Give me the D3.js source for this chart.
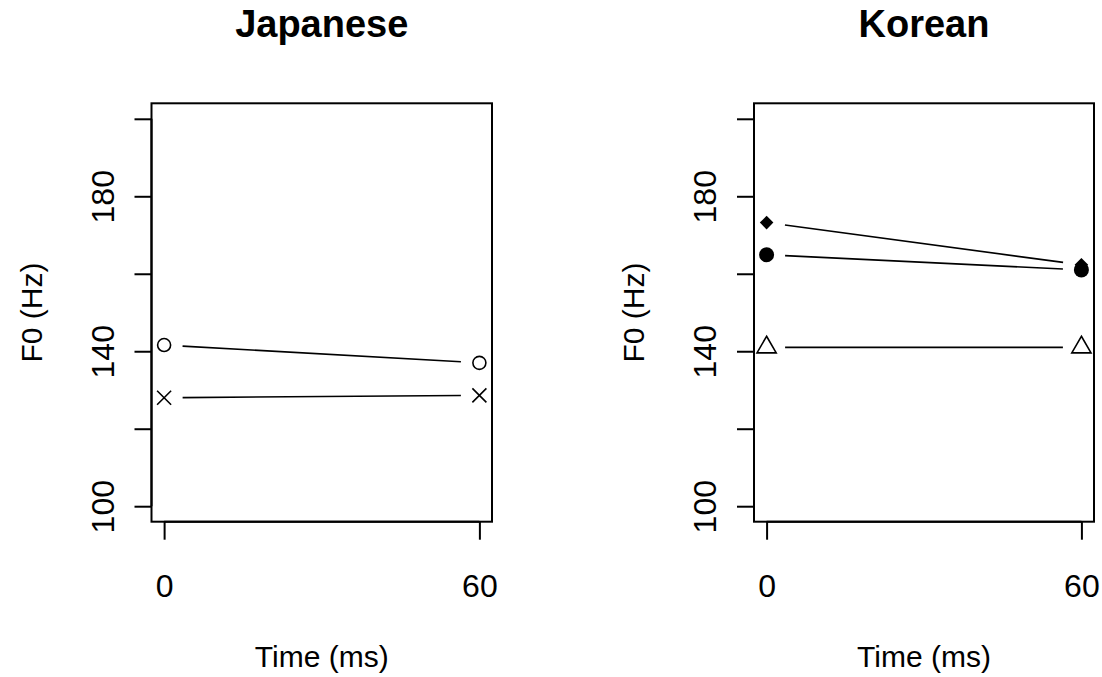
<!DOCTYPE html>
<html>
<head>
<meta charset="utf-8">
<script src="https://cdn.jsdelivr.net/npm/d3@7"></script>
<style>
  html, body { margin: 0; padding: 0; background: #fff; }
  svg { display: block; font-family: "Liberation Sans", Arial, Helvetica, sans-serif; }
  .axis text { font-size: 32px; fill: #000; }
  .axis line, .axis path { stroke: #000; stroke-width: 2; }
</style>
</head>
<body>
<svg id="chart"></svg>
<script>
// ─── Data ─────────────────────────────────────────────────────────────────────
const timesMs = [0, 60];

// Japanese panel (F0 in Hz at each time point)
const japaneseCircle = [141.6, 137.0];
const japaneseCross  = [128.0, 128.6];

// Korean panel
const koreanDiamond  = [173.2, 162.3];
const koreanDot      = [164.9, 161.0];
const koreanTriangle = [141.0, 141.0];

const panelTitles = ["Japanese", "Korean"];
const yTicks      = [100, 120, 140, 160, 180, 200];
const yTickLabels = [100, 140, 180];   // the rest are dropped, as R does for overlaps
const xTicks      = [0, 60];
const yDomain     = [96, 204];         // 100–200 plus R's 4% padding
const xDomain     = [-2.4, 62.4];

// ─── Layout ───────────────────────────────────────────────────────────────────
const W = 1102, H = 677;
const BOX = { top: 103.3, bottom: 521.7 };
const panelBoxes = [
  { left: 151.5, right: 492 },
  { left: 754,   right: 1094 }
];
const LINE_GAP = 18.5;   // type = "b" gap around each point, px

const svg = d3.select("#chart").attr("width", W).attr("height", H);

const yScale = d3.scaleLinear().domain(yDomain).range([BOX.bottom, BOX.top]);

// Marker makers (d3 symbol types, sized to match R's pch at this scale)
const markers = {
  circle:   { type: d3.symbolCircle,   size: 133, fill: "none", stroke: true },
  cross:    { type: d3.symbolTimes,    size: 130, fill: "none", stroke: true },
  diamond:  { type: d3.symbolSquare,   size: 92,  fill: "#000", stroke: false, rotate: 45 },
  dot:      { type: d3.symbolCircle,   size: 177, fill: "#000", stroke: false },
  triangle: { type: d3.symbolTriangle, size: 160, fill: "none", stroke: true }
};

const panels = [
  { title: panelTitles[0], series: [
      { values: japaneseCircle, marker: "circle" },
      { values: japaneseCross,  marker: "cross" } ] },
  { title: panelTitles[1], series: [
      { values: koreanDiamond,  marker: "diamond" },
      { values: koreanDot,      marker: "dot" },
      { values: koreanTriangle, marker: "triangle" } ] }
];

// Line between two points, shortened at both ends (R's type = "b").
function gappedSegment(p0, p1) {
  const dx = p1[0] - p0[0], dy = p1[1] - p0[1];
  const len = Math.hypot(dx, dy);
  const ux = dx / len, uy = dy / len;
  return [[p0[0] + ux * LINE_GAP, p0[1] + uy * LINE_GAP],
          [p1[0] - ux * LINE_GAP, p1[1] - uy * LINE_GAP]];
}

function drawPanel(panel, box) {
  const g = svg.append("g");
  const xScale = d3.scaleLinear().domain(xDomain).range([box.left, box.right]);
  const cx = (box.left + box.right) / 2;

  // Title
  g.append("text")
    .attr("x", cx).attr("y", 37)
    .attr("text-anchor", "middle")
    .attr("font-size", 38).attr("font-weight", "bold")
    .text(panel.title);

  // Plot box
  g.append("rect")
    .attr("x", box.left).attr("y", BOX.top)
    .attr("width", box.right - box.left).attr("height", BOX.bottom - BOX.top)
    .attr("fill", "none").attr("stroke", "#000").attr("stroke-width", 2);

  // Y axis, labels parallel to the axis
  const yAxis = g.append("g")
    .attr("class", "axis")
    .attr("transform", `translate(${box.left},0)`)
    .call(d3.axisLeft(yScale)
      .tickValues(yTicks)
      .tickSize(17).tickSizeOuter(0)
      .tickFormat(d => yTickLabels.includes(d) ? d : ""));
  yAxis.select(".domain").attr("d", `M0,${yScale(yTicks[0])}V${yScale(yTicks[yTicks.length - 1])}`);
  yAxis.selectAll(".tick text")
    .attr("transform", "rotate(-90)")
    .attr("x", 0).attr("y", -38).attr("dy", 0)
    .attr("text-anchor", "middle");

  // X axis
  const xAxis = g.append("g")
    .attr("class", "axis")
    .attr("transform", `translate(0,${BOX.bottom})`)
    .call(d3.axisBottom(xScale)
      .tickValues(xTicks)
      .tickSize(18).tickSizeOuter(0));
  xAxis.select(".domain").attr("d", `M${xScale(xTicks[0])},0H${xScale(xTicks[xTicks.length - 1])}`);
  xAxis.selectAll(".tick text").attr("y", 75.5).attr("dy", 0);

  // Axis titles
  g.append("text")
    .attr("x", cx).attr("y", 667)
    .attr("text-anchor", "middle").attr("font-size", 30)
    .text("Time (ms)");
  g.append("text")
    .attr("transform", `translate(${box.left - 110},${(BOX.top + BOX.bottom) / 2}) rotate(-90)`)
    .attr("text-anchor", "middle").attr("font-size", 30)
    .text("F0 (Hz)");

  // Series: gapped line + markers
  panel.series.forEach(s => {
    const pts = s.values.map((v, i) => [xScale(timesMs[i]), yScale(v)]);
    for (let i = 0; i < pts.length - 1; i++) {
      g.append("path")
        .attr("d", d3.line()(gappedSegment(pts[i], pts[i + 1])))
        .attr("fill", "none").attr("stroke", "#000").attr("stroke-width", 1.6);
    }
    const m = markers[s.marker];
    const sym = d3.symbol().type(m.type).size(m.size);
    g.selectAll(null)
      .data(pts)
      .join("path")
      .attr("transform", p => `translate(${p[0]},${p[1]})` + (m.rotate ? ` rotate(${m.rotate})` : ""))
      .attr("d", sym)
      .attr("fill", m.fill)
      .attr("stroke", m.stroke ? "#000" : "none")
      .attr("stroke-width", 1.6);
  });
}

panels.forEach((p, i) => drawPanel(p, panelBoxes[i]));
</script>
</body>
</html>
